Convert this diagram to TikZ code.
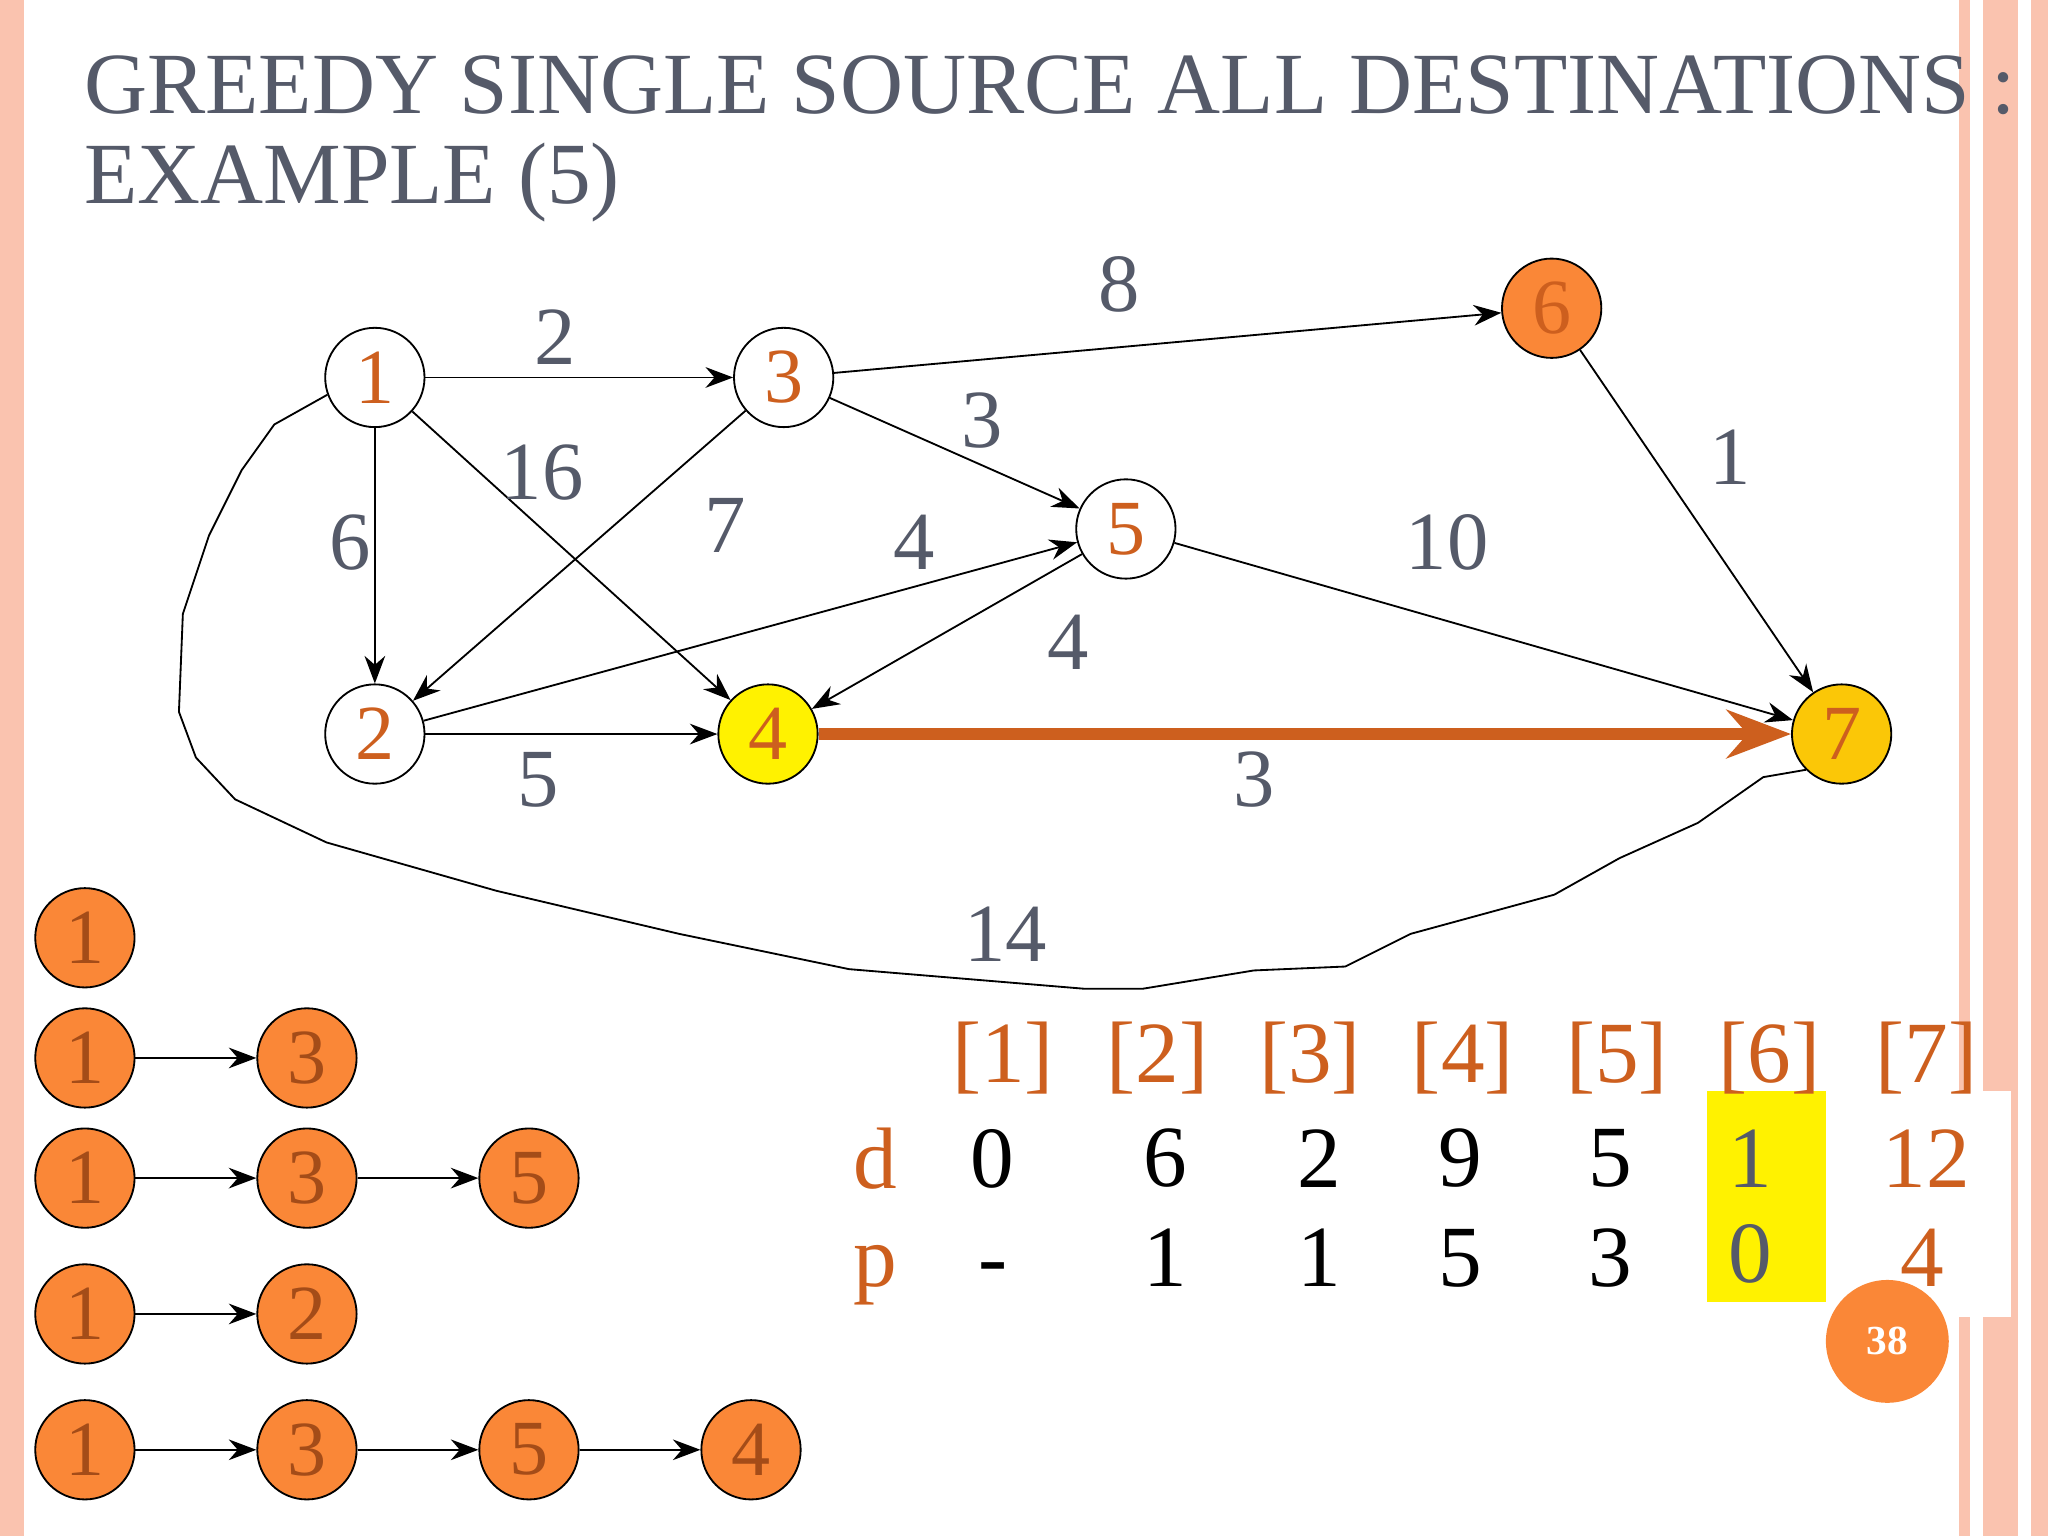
\documentclass[tikz,border=0pt]{standalone}
\usepackage{fontspec}
\setmainfont{Liberation Serif}
\usetikzlibrary{positioning,calc,arrows.meta}
\definecolor{orn}{RGB}{205,95,30}
\definecolor{ttl}{RGB}{85,90,105}
\definecolor{fillo}{RGB}{250,135,55}
\definecolor{pinkb}{RGB}{250,195,175}
\tikzset{
  vtx/.style={draw,circle,minimum size=0.76cm,inner sep=0pt,font=\fontsize{17}{17}\selectfont,text=orn},
  lbl/.style={text=ttl,font=\fontsize{18}{18}\selectfont},
  pth/.style={draw,circle,fill=fillo,minimum size=0.76cm,inner sep=0pt,font=\fontsize{17}{17}\selectfont,text=orn!80!black},
  edge/.style={-{Stealth[length=6pt]},thin},
  tab/.style={font=\fontsize{19}{19}\selectfont,inner sep=1pt}
}
\begin{document}
\begin{tikzpicture}[x=0.01cm,y=-0.01cm]
\useasboundingbox (0,0) rectangle (1568,1176);
% borders
\fill[pinkb] (0,0) rectangle (18,1176);
\fill[pinkb] (1500,0) rectangle (1508,1176);
\fill[pinkb] (1518,0) rectangle (1545,1176);
\fill[pinkb] (1555,0) rectangle (1568,1176);
% title
\node[anchor=west,text=ttl,font=\fontsize{19}{19}\selectfont] (t1) at (52,65) {GREEDY SINGLE SOURCE ALL DESTINATIONS :};
\node[anchor=west,text=ttl,font=\fontsize{19}{19}\selectfont] (t2) at (52,140) {EXAMPLE (5)};
% graph
\node[vtx] (n1) at (287,289) {1};
\node[vtx] (n3) at (600,289) {3};
\node[vtx,fill=fillo] (n6) at (1188,236) {6};
\node[vtx] (n5) at (862,405) {5};
\node[vtx] (n2) at (287,562) {2};
\node[vtx,fill=yellow] (n4) at (588,562) {4};
\node[vtx,fill=yellow!60!orange] (n7) at (1410,562) {7};
\draw[edge] (n1) -- (n3);
\draw[edge] (n3) -- (n6);
\draw[edge] (n1) -- (n2);
\draw[edge] (n1) -- (n4);
\draw[edge] (n3) -- (n5);
\draw[edge] (n3) -- (n2);
\draw[edge] (n2) -- (n5);
\draw[edge] (n5) -- (n4);
\draw[edge] (n2) -- (n4);
\draw[edge] (n5) -- (n7);
\draw[edge] (n6) -- (n7);
\draw[-{Stealth[length=14pt]},line width=2.5pt,orn] (n4) -- (n7);
\draw[thin] (n1.200) -- (210,325) -- (185,360) -- (160,410) -- (140,470) -- (137,545) -- (150,580) -- (180,612) -- (250,645) -- (380,682) -- (520,715) -- (650,742) -- (830,757) -- (875,757) -- (960,743) -- (1030,740) -- (1080,715) -- (1190,685) -- (1240,657) -- (1300,630) -- (1350,595) -- (n7.225);
\node[lbl] (w13) at (425,258) {2};
\node[lbl] (w36) at (857,218) {8};
\node[lbl] (w12) at (268,415) {6};
\node[lbl] (w14) at (415,362) {16};
\node[lbl] (w35) at (752,322) {3};
\node[lbl] (w32) at (555,402) {7};
\node[lbl] (w25) at (700,415) {4};
\node[lbl] (w67) at (1325,350) {1};
\node[lbl] (w57) at (1108,415) {10};
\node[lbl] (w54) at (818,492) {4};
\node[lbl] (w24) at (412,597) {5};
\node[lbl] (w47) at (960,597) {3};
\node[lbl] (w17) at (770,715) {14};
% paths
\node[pth] (a1) at (65,718) {1};
\node[pth] (b1) at (65,810) {1};
\node[pth] (b3) at (235,810) {3};
\node[pth] (c1) at (65,902) {1};
\node[pth] (c3) at (235,902) {3};
\node[pth] (c5) at (405,902) {5};
\node[pth] (d1) at (65,1006) {1};
\node[pth] (d2) at (235,1006) {2};
\node[pth] (e1) at (65,1110) {1};
\node[pth] (e3) at (235,1110) {3};
\node[pth] (e5) at (405,1110) {5};
\node[pth] (e4) at (575,1110) {4};
\draw[edge] (b1) -- (b3);
\draw[edge] (c1) -- (c3);
\draw[edge] (c3) -- (c5);
\draw[edge] (d1) -- (d2);
\draw[edge] (e1) -- (e3);
\draw[edge] (e3) -- (e5);
\draw[edge] (e5) -- (e4);
% table
\fill[yellow] (1307,835) rectangle (1398,997);
\fill[white] (1400,835) rectangle (1540,1008);
\node[circle,fill=fillo,minimum size=0.94cm,text=white,font=\fontsize{9}{9}\selectfont\bfseries] (pg) at (1445,1027) {38};
\node[tab,text=orn] (dh) at (670,887) {d};
\node[tab,text=orn,anchor=base] (ph) at (670,985) {p};
\foreach \i/\x in {1/768,2/886,3/1003,4/1120,5/1238,6/1355,7/1475}{
  \node[tab,text=orn] (h\i) at (\x,810) {[\i]};
}
\foreach \i/\x/\d/\p in {1/760/0/-,2/892/6/1,3/1010/2/1,4/1118/9/5,5/1233/5/3}{
  \node[tab] (d\i) at (\x,887) {\d};
  \node[tab,anchor=base] (p\i) at (\x,985) {\p};
}
\node[tab,text=ttl] (d6) at (1340,887) {1};
\node[tab,text=ttl] (p6) at (1340,960) {0};
\node[tab,text=orn] (d7) at (1475,887) {12};
\node[tab,text=orn,anchor=base] (p7) at (1472,985) {4};
\end{tikzpicture}
\end{document}
